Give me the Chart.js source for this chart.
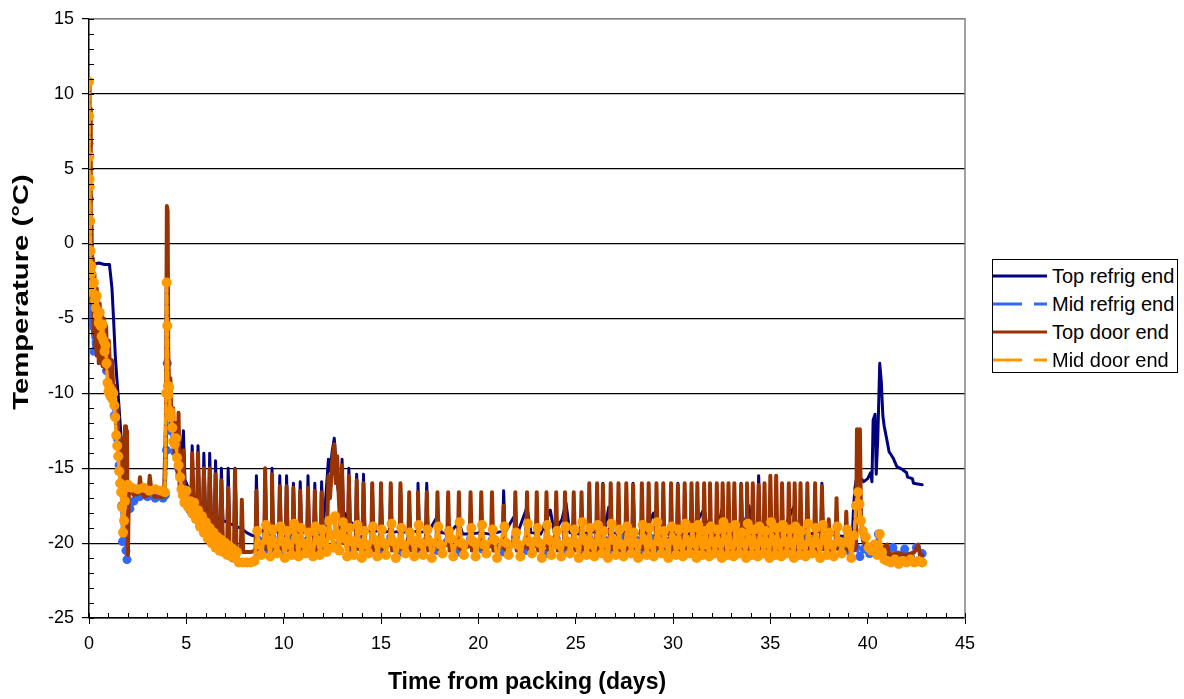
<!DOCTYPE html>
<html>
<head>
<meta charset="utf-8">
<script src="https://cdn.jsdelivr.net/npm/chart.js@4.4.1/dist/chart.umd.min.js"></script>
<style>
  html, body { margin: 0; padding: 0; background: #fff; }
  #wrap { position: relative; width: 1184px; height: 699px; }
  #legend {
    position: absolute; left: 992px; top: 259px; width: 184px; height: 112px;
    border: 1px solid #000; background: #fff;
    font-family: "Liberation Sans", Arial, sans-serif; font-size: 20px; color: #000;
  }
  #legend .row { position: absolute; left: 0; height: 28px; line-height: 28px; white-space: nowrap; }
  #legend svg { position: absolute; left: 0; top: 11px; }
  #legend span { position: absolute; left: 59px; top: 0; }
</style>
</head>
<body>
<div id="wrap">
  <canvas id="tempChart" width="1184" height="699"></canvas>
  <div id="legend"></div>
</div>
<script>
// logger readings: [days from packing, temperature °C]
const topRefrig = [
  [0,0.5],[0.03,7.5],[0.06,1],[0.1,-0.5],[0.15,-1.2],[0.2,-1.4],[0.5,-1.3],[0.8,-1.4],[1.05,-1.4],[1.1,-2],[1.18,-3],[1.26,-5],[1.35,-7.5],[1.43,-9],[1.52,-10.5],[1.6,-12],[1.68,-13.5],[1.76,-14.8],[1.85,-15.8],[1.95,-16.3],[2.2,-16.4],[2.7,-16.5],[3.2,-16.5],[3.6,-16.6],[3.92,-16.6],[3.97,-13],[4.02,-9.2],[4.08,-10.8],[4.15,-11.5],[4.25,-12.6],[4.35,-12.2],[4.45,-13.8],[4.55,-14.5],[4.62,-13.2],[4.7,-15.2],[4.85,-12.5],[4.93,-15.8],[5.1,-16.3],[5.25,-16.6],[5.3,-13.5],[5.38,-16.9],[5.55,-17.1],[5.6,-13.5],[5.68,-17.3],[5.85,-17.5],[5.9,-14],[5.98,-17.7],[6.15,-17.9],[6.2,-14],[6.28,-18],[6.45,-18.1],[6.5,-14.5],[6.58,-18.3],[6.75,-18.4],[6.8,-15],[6.88,-18.5],[7.1,-18.6],[7.15,-15],[7.22,-18.7],[7.45,-18.8],[7.5,-15],[7.58,-18.9],[7.8,-19],[8.1,-19.3],[8.4,-19.5],
  [8.55,-19.5],[8.6,-15.5],[8.67,-19.2],[9.0,-19.2],[9.05,-15],[9.12,-19.3],[9.35,-19.1],[9.4,-15],[9.47,-19.3],[9.75,-19.2],[9.8,-15.5],[9.87,-19.3],[10.1,-19.1],[10.15,-15.5],[10.22,-19.3],[10.45,-19.2],[10.5,-16],[10.57,-19.3],[10.8,-19.1],[10.85,-15.9],[10.92,-19.3],[11.2,-19.2],[11.25,-15.5],[11.32,-19.3],[11.55,-19.1],[11.6,-16],[11.67,-19.3],[11.9,-19.2],[11.95,-15.9],[12.02,-18.8],
  [12.15,-17.2],[12.3,-14.4],[12.38,-15.2],[12.5,-13.8],[12.6,-13],[12.68,-14.5],[12.78,-16.3],[12.92,-17.4],[13.0,-14.4],[13.07,-17.9],[13.3,-18.4],[13.35,-15],[13.42,-18.6],[13.7,-18.8],[13.75,-15.4],[13.82,-18.9],[14.05,-19],[14.1,-15.4],[14.17,-19.1],[14.5,-19.2],[14.55,-16],[14.62,-19.2],[14.95,-19.2],[15.0,-16],[15.07,-19.3],[15.45,-19.2],[15.5,-16],[15.57,-19.3],[15.95,-19.2],[16.0,-16],[16.07,-19.3],[16.4,-19.2],[16.45,-17.4],[16.52,-19.3],[16.85,-19.2],[16.9,-16],[16.97,-19.3],[17.3,-19.2],[17.35,-16],[17.42,-19.3],
  [17.9,-18.2],[18.1,-19.3],[18.5,-19.4],[19.0,-18.6],[19.2,-19.4],[19.6,-19.4],[20.1,-19.3],[20.6,-19.4],[21.25,-19.2],[21.3,-16.5],[21.37,-19.3],[21.8,-18.3],[22.0,-19.4],[22.5,-17.6],[22.7,-19.3],[23.2,-19.4],[23.7,-17.8],[23.9,-19.3],[24.3,-18.4],[24.5,-17.3],[24.7,-19.3],[25.2,-19.4],[25.6,-19.3],[26.35,-19.2],[26.4,-16],[26.47,-19.3],[26.7,-17.6],[26.9,-19.3],[27.5,-19.4],[27.9,-19.2],[27.95,-16],[28.02,-19.3],[28.5,-19.4],[29.0,-18],[29.2,-19.3],[29.8,-19.4],[30.2,-19.2],[30.25,-16],[30.32,-19.3],[30.9,-19.4],[31.6,-17.7],[31.8,-19.3],[32.3,-19.4],[32.5,-17.8],[32.7,-19.3],[33.45,-19.2],[33.5,-16],[33.57,-19.3],[33.9,-17.5],[34.1,-19.3],[34.35,-19.2],[34.4,-15.5],[34.47,-19.3],[35.0,-19.4],[35.6,-19.3],[36.2,-17.6],[36.4,-19.3],[37.0,-19.4],[37.6,-19.2],[37.65,-16],[37.72,-19.3],
  [38.0,-19.4],[38.5,-19.5],[39.0,-19.6],[39.2,-19.9],[39.28,-17.5],[39.35,-16.3],[39.45,-15.5],[39.6,-15.6],[39.8,-15.9],[40.0,-15.7],[40.15,-15.3],[40.22,-15.9],[40.28,-11.8],[40.38,-11.4],[40.44,-15.4],[40.52,-13],[40.62,-8],[40.7,-9.2],[40.78,-11.5],[40.85,-12.2],[41.0,-13.2],[41.1,-13.9],[41.3,-14.3],[41.5,-14.9],[41.8,-15.1],[42.0,-15.3],[42.05,-15.6],[42.3,-15.7],[42.35,-16.0],[42.8,-16.1]
];

const midRefrig = [
  [0,6.7],[0.01,3],[0.02,-0.8],[0.03,-2.5],[0.04,-3],[0.05,-5.1],[0.08,-4],[0.15,-5.5],[0.25,-7.2],[0.35,-6],[0.5,-6.5],[0.7,-7],[0.9,-8.5],[1.1,-10],[1.3,-11.5],[1.45,-13],[1.55,-14.8],[1.62,-16],[1.68,-17.5],[1.72,-19.9],[1.78,-17.6],[1.85,-17.7],[1.9,-20.5],[1.95,-21.1],[2.0,-17.6],[2.1,-17.7],[2.3,-17.2],[2.6,-16.9],[3.0,-16.9],[3.4,-17],[3.8,-17],[3.92,-16.8],[3.98,-13.8],[4.02,-8],[4.08,-11],[4.2,-12.5],[4.4,-13.9],[4.6,-15],[4.8,-16.3],[5.0,-17],[5.3,-17.8],[5.6,-18.5],[5.9,-19.1],[6.2,-19.6],[6.5,-20.1],[6.8,-20.4],[7.1,-20.7],[7.4,-21],[7.7,-21.3],[8.1,-21.3],[8.5,-21.2],
  [8.7,-19.8],[9.0,-20.5],[9.4,-19.6],[9.8,-20.6],[10.2,-19.7],[10.6,-20.4],[11.0,-19.9],[11.4,-20.6],[11.8,-19.7],[12.2,-20.4],[12.6,-20.2],[13.0,-19.6],[13.4,-20.5],[13.8,-19.7],[14.2,-20.7],[14.6,-19.8],[15.0,-20.5],[15.5,-19.6],[16.0,-20.6],[16.5,-19.8],[17.0,-20.4],[17.4,-19.7],[17.9,-20.5],[18.4,-19.9],[19.0,-20.6],[19.6,-19.7],[20.2,-20.4],[20.7,-19.8],[21.3,-20.6],[21.9,-19.6],[22.5,-20.5],[23.0,-19.8],[23.5,-20.7],[24.0,-19.7],[24.5,-20.5],[24.9,-19.9],[25.3,-20.6],[25.7,-19.7],[26.1,-20.4],[26.5,-19.8],[26.9,-20.6],[27.3,-19.6],[27.7,-20.5],[28.1,-19.8],[28.5,-20.7],[28.9,-19.7],[29.3,-20.5],[29.7,-19.9],[30.1,-20.6],[30.5,-19.7],[30.9,-20.4],[31.3,-19.8],[31.7,-20.6],[32.1,-19.6],[32.5,-20.5],[32.9,-19.8],[33.3,-20.7],[33.7,-19.7],[34.1,-20.5],[34.5,-19.9],[34.9,-20.6],[35.3,-19.7],[35.7,-20.4],[36.1,-19.8],[36.5,-20.6],[36.9,-19.6],[37.3,-20.5],[37.7,-19.8],[38.1,-20.6],[38.5,-19.9],[39.0,-20.5],
  [39.4,-20.3],[39.6,-20.9],[39.8,-20.4],[40.1,-20.7],[40.4,-20.2],[40.55,-19.4],[40.7,-20.6],[41.0,-21],[41.3,-20.3],[41.6,-20.8],[41.9,-20.4],[42.2,-20.9],[42.5,-20.3],[42.8,-20.7]
];

const topDoor = [
  [0,3],[0.02,11],[0.04,6],[0.06,9],[0.08,1],[0.1,-2.5],[0.13,1.5],[0.16,-4],[0.2,-1],[0.24,-6],[0.28,-2],[0.32,-7],[0.36,-3],[0.4,-7.5],[0.45,-3.5],[0.5,-8],[0.55,-4],[0.6,-8],[0.65,-4.5],[0.7,-8.2],[0.76,-5],[0.82,-8.4],[0.88,-5.5],[0.95,-8.6],[1.02,-6.5],[1.1,-9],[1.18,-7.8],[1.26,-10],[1.32,-9.5],[1.4,-12],[1.47,-11],[1.55,-14.5],[1.62,-13.5],[1.7,-16],[1.75,-13],[1.8,-17.5],[1.85,-12.2],[1.9,-19],[1.95,-12.5],[2.0,-20.8],[2.05,-16.3],
  [2.3,-16.8],[2.55,-16.7],[2.62,-15.6],[2.7,-16.6],[2.85,-16.9],[3.05,-16.8],[3.12,-15.5],[3.2,-16.4],[3.35,-16.9],[3.6,-16.9],[3.85,-16.9],[3.95,-12],[4.0,2.5],[4.04,2.2],[4.07,-7],[4.12,-10],[4.18,-9],[4.25,-12.5],[4.32,-11],[4.4,-14],[4.48,-12],[4.55,-15.5],[4.6,-11.3],[4.66,-16.5],[4.78,-15],[4.85,-13.8],[4.92,-17.5],[5.05,-17.8],[5.25,-18.2],[5.3,-14],[5.38,-18.5],[5.55,-18.4],[5.6,-14],[5.68,-18.8],[5.85,-18.7],[5.9,-15],[5.98,-19.2],[6.15,-19.1],[6.2,-15],[6.28,-19.5],[6.45,-19.4],[6.5,-15.4],[6.58,-19.8],[6.75,-19.8],[6.8,-15.8],[6.88,-20],[7.1,-20],[7.15,-16.3],[7.22,-20.2],[7.45,-20.2],[7.5,-15.1],[7.58,-20.4],[7.8,-20.4],[7.85,-17.1],[7.92,-20.6],[8.3,-20.6],
  [8.55,-20.5],[8.6,-16.5],[8.67,-20.4],[9.0,-20.2],[9.05,-15],[9.12,-20.4],[9.35,-20.1],[9.4,-15.4],[9.47,-20.5],[9.75,-20.2],[9.8,-16.2],[9.87,-20.4],[10.1,-20.1],[10.15,-16.2],[10.22,-20.5],[10.45,-20.2],[10.5,-16.3],[10.57,-20.4],[10.8,-20.0],[10.85,-16.5],[10.92,-20.5],[11.2,-20.2],[11.25,-16.3],[11.32,-20.4],[11.55,-20.1],[11.6,-16.5],[11.67,-20.5],[11.9,-20.2],[11.95,-16.6],[12.02,-20.3],
  [12.22,-19.8],[12.3,-15.5],[12.38,-17],[12.5,-14.5],[12.6,-13.4],[12.68,-16],[12.75,-14.2],[12.85,-17.5],[12.95,-19.8],[13.0,-14.8],[13.07,-20],[13.3,-20.1],[13.35,-15.5],[13.42,-20.3],[13.7,-20.1],[13.75,-15.8],[13.82,-20.4],[14.05,-20.2],[14.1,-16],[14.17,-20.4],[14.5,-20.2],[14.55,-16],[14.62,-20.5],[14.95,-20.2],[15.0,-16],[15.07,-20.4],[15.45,-20.1],[15.5,-16],[15.57,-20.5],[15.95,-20.2],[16.0,-16],[16.07,-20.4],
  [16.4,-20.2],[16.45,-16.6],[16.52,-20.5],[16.85,-20.1],[16.9,-16.6],[16.97,-20.4],[17.3,-20.2],[17.35,-16.6],[17.42,-20.5],[17.85,-20.2],[17.9,-16.6],[17.97,-20.4],[18.4,-20.1],[18.45,-16.6],[18.52,-20.5],[18.95,-20.2],[19.0,-16.6],[19.07,-20.4],[19.55,-20.2],[19.6,-16.6],[19.67,-20.5],[20.1,-20.1],[20.15,-16.6],[20.22,-20.4],[20.65,-20.2],[20.7,-16.6],[20.77,-20.5],[21.25,-20.2],[21.3,-17.5],[21.37,-20.4],[21.85,-20.1],[21.9,-16.6],[21.97,-20.5],[22.45,-20.2],[22.5,-16.6],[22.57,-20.4],[22.95,-20.2],[23.0,-16.6],[23.07,-20.5],[23.45,-20.1],[23.5,-16.6],[23.57,-20.4],[23.95,-20.2],[24.0,-16.6],[24.07,-20.5],[24.4,-20.2],[24.45,-16.6],[24.52,-20.4],[24.85,-20.1],[24.9,-16.6],[24.97,-20.5],[25.25,-20.2],[25.3,-16.6],[25.37,-20.4],
  [25.65,-20.2],[25.7,-16],[25.77,-20.5],[26.05,-20.1],[26.1,-16],[26.17,-20.4],[26.35,-20.2],[26.4,-16.1],[26.47,-20.5],[26.75,-20.2],[26.8,-16],[26.87,-20.4],[27.15,-20.1],[27.2,-16],[27.27,-20.5],[27.55,-20.2],[27.6,-16],[27.67,-20.4],[27.9,-20.2],[27.95,-16.1],[28.02,-20.5],[28.35,-20.1],[28.4,-16],[28.47,-20.4],[28.7,-20.2],[28.75,-16],[28.82,-20.5],[29.1,-20.2],[29.15,-16],[29.22,-20.4],[29.45,-20.1],[29.5,-16],[29.57,-20.5],[29.85,-20.2],[29.9,-16],[29.97,-20.4],[30.2,-20.2],[30.25,-16.1],[30.32,-20.5],[30.55,-20.1],[30.6,-16],[30.67,-20.4],[30.9,-20.2],[30.95,-16],[31.02,-20.5],[31.2,-20.2],[31.25,-16],[31.32,-20.4],[31.55,-20.1],[31.6,-16],[31.67,-20.5],[31.85,-20.2],[31.9,-16],[31.97,-20.4],
  [32.2,-20.2],[32.25,-16],[32.32,-20.5],[32.5,-20.1],[32.55,-16],[32.62,-20.4],[32.8,-20.2],[32.85,-16],[32.92,-20.5],[33.1,-20.2],[33.15,-16],[33.22,-20.4],[33.45,-20.1],[33.5,-16.1],[33.57,-20.5],[33.75,-20.2],[33.8,-16],[33.87,-20.4],[34.05,-20.2],[34.1,-16],[34.17,-20.5],[34.35,-20.1],[34.4,-16.1],[34.47,-20.4],[34.65,-20.2],[34.7,-16],[34.77,-20.5],[34.95,-20.2],[35.0,-15.5],[35.07,-20.4],[35.25,-20.1],[35.3,-15.5],[35.37,-20.5],[35.55,-20.2],[35.6,-16],[35.67,-20.4],[35.9,-20.2],[35.95,-16],[36.02,-20.5],[36.2,-20.1],[36.25,-16],[36.32,-20.4],[36.5,-20.2],[36.55,-16],[36.62,-20.5],[36.85,-20.2],[36.9,-16],[36.97,-20.4],[37.25,-20.1],[37.3,-16],[37.37,-20.5],[37.6,-20.2],[37.65,-16.2],[37.72,-20.4],
  [37.95,-20.2],[38.0,-18.4],[38.07,-20.5],[38.35,-20.2],[38.4,-17],[38.47,-20.4],[38.85,-20.1],[38.9,-17.9],[38.97,-20.5],[39.15,-20.3],[39.2,-19.3],[39.27,-20.5],[39.4,-20.3],[39.45,-12.4],[39.52,-12.6],[39.6,-12.4],[39.66,-18.5],[39.75,-19.8],[39.9,-20.2],[40.2,-20.4],[40.6,-20.5],[41.0,-20.1],[41.1,-20.8],[41.5,-20.7],[42.0,-20.8],[42.4,-20.6],[42.6,-20.1],[42.7,-20.8],[42.8,-20.8]
];

const midDoor = [
  [0,10.8],[0.01,8.5],[0.02,5.8],[0.03,4.3],[0.04,3.8],[0.06,1.5],[0.08,-0.5],[0.1,-2],[0.13,-1.5],[0.16,-2.8],[0.2,-3.3],[0.25,-2.6],[0.3,-3.8],[0.35,-4.3],[0.4,-3.5],[0.45,-4.8],[0.5,-5.3],[0.55,-4.6],[0.6,-5.5],[0.65,-6.2],[0.7,-5.4],[0.75,-6.5],[0.8,-7.2],[0.85,-6.8],[0.9,-8],[0.95,-9.3],[1.0,-9.9],[1.05,-9.6],[1.1,-10.2],[1.15,-9.8],[1.2,-10.4],[1.25,-10],[1.3,-10.8],[1.35,-11.6],[1.4,-12.8],[1.45,-13.5],[1.5,-14.2],[1.55,-15.2],[1.6,-16],[1.65,-16.6],[1.7,-17.6],[1.75,-19.3],[1.8,-18.5],[1.85,-17.2],[1.9,-16.3],[2.0,-16.1],[2.2,-16.3],[2.5,-16.4],[2.8,-16.3],[3.1,-16.5],[3.4,-16.4],[3.7,-16.5],[3.9,-16.6],
  [3.96,-10],[3.99,-2.6],[4.02,-5.5],[4.05,-9.5],[4.08,-10.1],[4.12,-9.6],[4.17,-11.2],[4.22,-11.6],[4.28,-12.3],[4.33,-13.2],[4.4,-13.4],[4.47,-13],[4.52,-14.3],[4.6,-14.8],[4.68,-15.6],[4.75,-16.4],[4.82,-16.8],[4.9,-17.3],[5.0,-16.5],[5.1,-17.6],[5.2,-17.2],[5.3,-18],[5.4,-17.3],[5.5,-18.4],[5.6,-17.8],[5.7,-18.9],[5.8,-18.2],[5.9,-19.3],[6.0,-18.6],[6.1,-19.7],[6.2,-19],[6.3,-20],[6.4,-19.3],[6.5,-20.3],[6.6,-19.6],[6.7,-20.5],[6.8,-19.8],[6.9,-20.6],[7.0,-20],[7.1,-20.8],[7.2,-20.2],[7.3,-20.9],[7.4,-20.4],[7.5,-21],[7.6,-20.6],[7.7,-21.3],[7.9,-21.3],[8.1,-21.3],[8.3,-21.3],[8.5,-21.2],
  [8.64,-19.2],[8.74,-20.1],[8.86,-20.8],[9.09,-18.8],[9.19,-19.8],[9.31,-20.9],[9.44,-19.1],[9.54,-20],[9.66,-20.7],[9.84,-18.9],[9.94,-19.9],[10.06,-21],[10.19,-19.2],[10.29,-20.1],[10.41,-20.8],[10.54,-18.7],[10.64,-19.7],[10.76,-20.9],[10.89,-19],[10.99,-20],[11.11,-20.7],[11.29,-19.3],[11.39,-20.2],[11.51,-20.9],[11.64,-18.9],[11.74,-19.8],[11.86,-20.8],[11.99,-19.1],[12.09,-20],[12.21,-20.6],
  [12.34,-18.5],[12.44,-19.5],[12.56,-20.3],[12.64,-18.2],[12.74,-19.4],[12.86,-20.5],[13.04,-18.6],[13.14,-19.7],[13.26,-20.9],[13.39,-19],[13.49,-19.9],[13.61,-20.8],[13.79,-18.8],[13.89,-20],[14.01,-21],[14.14,-19.2],[14.24,-20.1],[14.36,-20.7],[14.59,-18.9],[14.69,-19.8],[14.81,-20.9],[15.04,-19.1],[15.14,-20],[15.26,-20.8],[15.54,-18.7],[15.64,-19.9],[15.76,-21],[16.04,-19],[16.14,-20.1],[16.26,-20.7],
  [16.49,-19.3],[16.59,-19.8],[16.71,-20.9],[16.94,-18.8],[17.04,-20],[17.16,-20.8],[17.39,-19.1],[17.49,-19.9],[17.61,-21],[17.94,-18.9],[18.04,-20.1],[18.16,-20.7],[18.49,-19.2],[18.59,-19.7],[18.71,-20.9],[19.04,-18.6],[19.14,-20],[19.26,-20.8],[19.64,-19],[19.74,-19.9],[19.86,-20.9],[20.19,-18.8],[20.29,-20.1],[20.41,-20.7],[20.74,-19.1],[20.84,-19.8],[20.96,-21],
  [21.34,-18.9],[21.44,-20],[21.56,-20.8],[21.94,-19.3],[22.04,-20.1],[22.16,-20.9],[22.54,-18.7],[22.64,-19.9],[22.76,-20.7],[23.04,-19],[23.14,-20],[23.26,-21],[23.54,-18.8],[23.64,-19.8],[23.76,-20.8],[24.04,-19.2],[24.14,-20.1],[24.26,-20.9],[24.49,-18.9],[24.59,-19.9],[24.71,-20.7],[24.94,-19.1],[25.04,-20],[25.16,-21],[25.34,-18.6],[25.44,-19.8],[25.56,-20.8],
  [25.74,-19],[25.84,-20.1],[25.96,-20.9],[26.14,-18.8],[26.24,-19.9],[26.36,-20.7],[26.44,-19.2],[26.54,-20],[26.66,-21],[26.84,-18.7],[26.94,-19.8],[27.06,-20.8],[27.24,-19.1],[27.34,-20.1],[27.46,-20.9],[27.64,-18.9],[27.74,-19.9],[27.86,-20.7],[27.99,-19.3],[28.09,-20],[28.21,-21],[28.44,-18.8],[28.54,-19.8],[28.66,-20.8],[28.79,-19],[28.89,-20.1],[29.01,-20.9],[29.19,-18.6],[29.29,-19.9],[29.41,-20.7],
  [29.54,-19.2],[29.64,-20],[29.76,-21],[29.94,-18.9],[30.04,-19.8],[30.16,-20.8],[30.29,-19.1],[30.39,-20.1],[30.51,-20.9],[30.64,-18.7],[30.74,-19.9],[30.86,-20.7],[30.99,-19],[31.09,-20],[31.21,-21],[31.29,-18.8],[31.39,-19.8],[31.51,-20.8],[31.64,-19.2],[31.74,-20.1],[31.86,-20.9],[31.94,-18.9],[32.04,-19.9],[32.16,-20.7],[32.29,-19.1],[32.39,-20],[32.51,-21],
  [32.59,-18.6],[32.69,-19.8],[32.81,-20.8],[32.89,-19],[32.99,-20.1],[33.11,-20.9],[33.19,-18.8],[33.29,-19.9],[33.41,-20.7],[33.54,-19.3],[33.64,-20],[33.76,-21],[33.84,-18.7],[33.94,-19.8],[34.06,-20.8],[34.14,-19.1],[34.24,-20.1],[34.36,-20.9],[34.44,-18.9],[34.54,-19.9],[34.66,-20.7],[34.74,-19.2],[34.84,-20],[34.96,-21],[35.04,-18.6],[35.14,-19.8],[35.26,-20.8],
  [35.34,-19],[35.44,-20.1],[35.56,-20.9],[35.64,-18.8],[35.74,-19.9],[35.86,-20.7],[35.99,-19.1],[36.09,-20],[36.21,-21],[36.29,-18.9],[36.39,-19.8],[36.51,-20.8],[36.59,-19.2],[36.69,-20.1],[36.81,-20.9],[36.94,-18.7],[37.04,-19.9],[37.16,-20.7],[37.34,-19],[37.44,-20],[37.56,-21],[37.69,-18.8],[37.79,-19.8],[37.91,-20.8],[38.04,-19.3],[38.14,-20.1],[38.26,-20.9],[38.44,-18.9],[38.54,-19.9],[38.66,-20.7],[38.94,-19.1],[39.04,-20],[39.16,-21],
  [39.3,-19.5],[39.4,-17.5],[39.5,-16.6],[39.58,-17.4],[39.65,-18.5],[39.75,-19.2],[39.9,-19.6],[40.05,-20.3],[40.2,-20.5],[40.35,-20.1],[40.5,-20.8],[40.62,-19.4],[40.72,-20.6],[40.85,-21.1],[41.0,-21.2],[41.2,-21.3],[41.4,-21.1],[41.6,-21.4],[41.8,-21.2],[42.0,-21.3],[42.2,-21.1],[42.4,-21.3],[42.6,-21.2],[42.8,-21.3]
];

const seriesNames = ['Top refrig end', 'Mid refrig end', 'Top door end', 'Mid door end'];
const seriesColors = ['#000080', '#3366ff', '#993300', '#ff9900'];
const xTickValues = [0, 5, 10, 15, 20, 25, 30, 35, 40, 45];
const yTickValues = [-25, -20, -15, -10, -5, 0, 5, 10, 15];
const xTitle = 'Time from packing (days)';
const yTitle = 'Temperature (°C)';

const FONT = '"Liberation Sans", Arial, sans-serif';

function toPoints(rows) {
  return rows.map(r => ({ x: r[0], y: r[1] }));
}

// minor tick marks, plot frame and the two axis titles
const frameAndTitles = {
  id: 'frameAndTitles',
  afterDraw(chart) {
    const { ctx, chartArea: a, scales: { x, y } } = chart;
    ctx.save();

    ctx.strokeStyle = '#808080';
    ctx.lineWidth = 1.5;
    ctx.beginPath();
    ctx.moveTo(a.left, a.top);
    ctx.lineTo(a.right, a.top);
    ctx.lineTo(a.right, a.bottom);
    ctx.stroke();

    ctx.strokeStyle = '#000';
    ctx.lineWidth = 1;
    ctx.beginPath();
    for (let d = x.min; d <= x.max; d += 1) {
      const px = Math.round(x.getPixelForValue(d)) + 0.5;
      ctx.moveTo(px, a.bottom);
      ctx.lineTo(px, a.bottom - 5);
    }
    for (let t = y.min; t <= y.max; t += 1) {
      const py = Math.round(y.getPixelForValue(t)) + 0.5;
      ctx.moveTo(a.left, py);
      ctx.lineTo(a.left + 5, py);
    }
    ctx.stroke();

    ctx.fillStyle = '#000';
    ctx.font = 'bold 23px ' + FONT;
    ctx.textAlign = 'center';
    ctx.textBaseline = 'middle';
    ctx.fillText(xTitle, (a.left + a.right) / 2, 683);

    // the vertical title runs a little longer than the font alone gives
    ctx.font = 'bold 22px ' + FONT;
    ctx.translate(22, 292);
    ctx.rotate(-Math.PI / 2);
    ctx.scale(1.33, 1);
    ctx.fillText(yTitle, 0, 0);
    ctx.restore();
  }
};

const styles = [
  { borderWidth: 3, pointRadius: 0, order: 4 },
  { borderWidth: 3, borderDash: [8, 3], pointRadius: 4.5, order: 3 },
  { borderWidth: 4, pointRadius: 0, order: 2 },
  { borderWidth: 3.5, borderDash: [8, 3], pointRadius: 5, order: 1 }
];
const seriesData = [topRefrig, midRefrig, topDoor, midDoor];

const datasets = seriesData.map((rows, i) => Object.assign({
  label: seriesNames[i],
  data: toPoints(rows),
  borderColor: seriesColors[i],
  backgroundColor: seriesColors[i],
  pointBackgroundColor: seriesColors[i],
  pointBorderWidth: 0,
  borderJoinStyle: 'round',
  borderCapStyle: 'round',
  tension: 0,
  fill: false
}, styles[i]));

new Chart(document.getElementById('tempChart'), {
  type: 'line',
  data: { datasets: datasets },
  options: {
    responsive: false,
    animation: false,
    devicePixelRatio: 1,
    layout: { padding: { top: 15, right: 219, left: 0, bottom: 0 } },
    plugins: { legend: { display: false }, tooltip: { enabled: false } },
    scales: {
      x: {
        type: 'linear', min: 0, max: 45,
        afterBuildTicks: s => { s.ticks = xTickValues.map(v => ({ value: v })); },
        afterFit: s => { s.height = 81; },
        ticks: { font: { family: FONT, size: 18 }, color: '#000', padding: 9, maxRotation: 0 },
        grid: { drawOnChartArea: false, tickLength: 6, color: '#000', tickColor: '#000' },
        border: { color: '#000', width: 1.5 }
      },
      y: {
        type: 'linear', min: -25, max: 15,
        afterBuildTicks: s => { s.ticks = yTickValues.map(v => ({ value: v })); },
        afterFit: s => { s.width = 89; },
        ticks: { font: { family: FONT, size: 18 }, color: '#000', padding: 8 },
        grid: {
          color: c => (c.tick && c.tick.value === 15 ? '#808080' : '#000'),
          lineWidth: 1.2, tickLength: 7, tickColor: '#000'
        },
        border: { color: '#000', width: 1.5 }
      }
    }
  },
  plugins: [frameAndTitles]
});

// legend box
const legend = document.getElementById('legend');
const rowCentres = [16, 44, 72, 100];
seriesNames.forEach((name, i) => {
  const row = document.createElement('div');
  row.className = 'row';
  row.style.top = (rowCentres[i] - 14) + 'px';
  row.style.width = '184px';
  const dash = styles[i].borderDash ? ' stroke-dasharray="29 12"' : '';
  row.innerHTML =
    '<svg width="54" height="6"><line x1="0" y1="3" x2="54" y2="3" stroke="' + seriesColors[i] +
    '" stroke-width="3"' + dash + '/></svg><span>' + name + '</span>';
  legend.appendChild(row);
});
</script>
</body>
</html>
